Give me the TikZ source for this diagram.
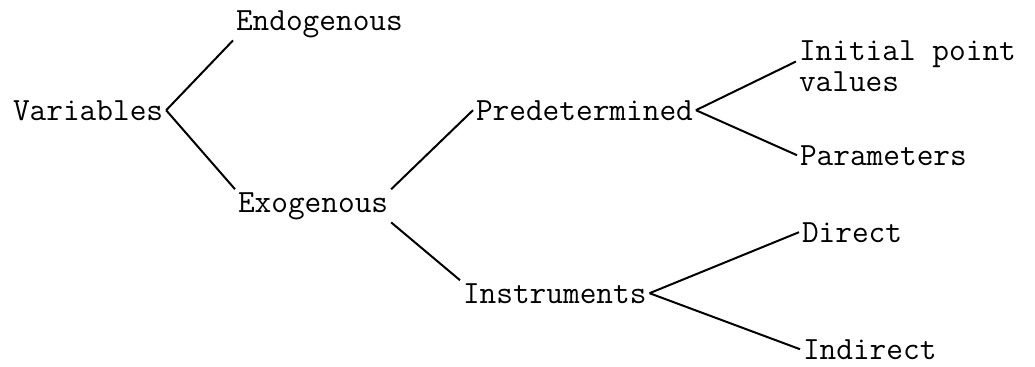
\documentclass[tikz,border=0pt]{standalone}
\usepackage{tikz}
\usetikzlibrary{positioning}

\begin{document}
\begin{tikzpicture}[x=0.5pt,y=-0.5pt,line width=1pt,
  word/.style={anchor=base west,inner sep=1pt,font=\ttfamily\fontsize{16.2}{15.5}\selectfont}]
          \useasboundingbox (0,0) rectangle (1035,366);
          \node[word] at (10,120) (var) {Variables};
          \node[word] at (233,30) (endo) {Endogenous};
          \node[word] at (235,212) (exo) {Exogenous};
          \node[word] at (473,120) (pred) {Predetermined};
          \node[word] at (460,303) (instr) {Instruments};
          \node[word,align=left,anchor=north west] at (796,38) (init) {Initial point\\values};
          \node[word] at (797,165) (param) {Parameters};
          \node[word] at (799,242) (dir) {Direct};
          \node[word] at (800,359) (indir) {Indirect};
          \draw (var.east)--(endo.south west);
          \draw (var.east)--(exo.north west);
          \draw (exo.north east)--(pred.west);
          \draw (exo.south east)--(instr.north west);
          \draw (pred.east)--([yshift=2.5pt]init.west);
          \draw (pred.east)--(param.west);
          \draw (instr.east)--(dir.west);
          \draw (instr.east)--(indir.west);
        \end{tikzpicture}
\end{document}
